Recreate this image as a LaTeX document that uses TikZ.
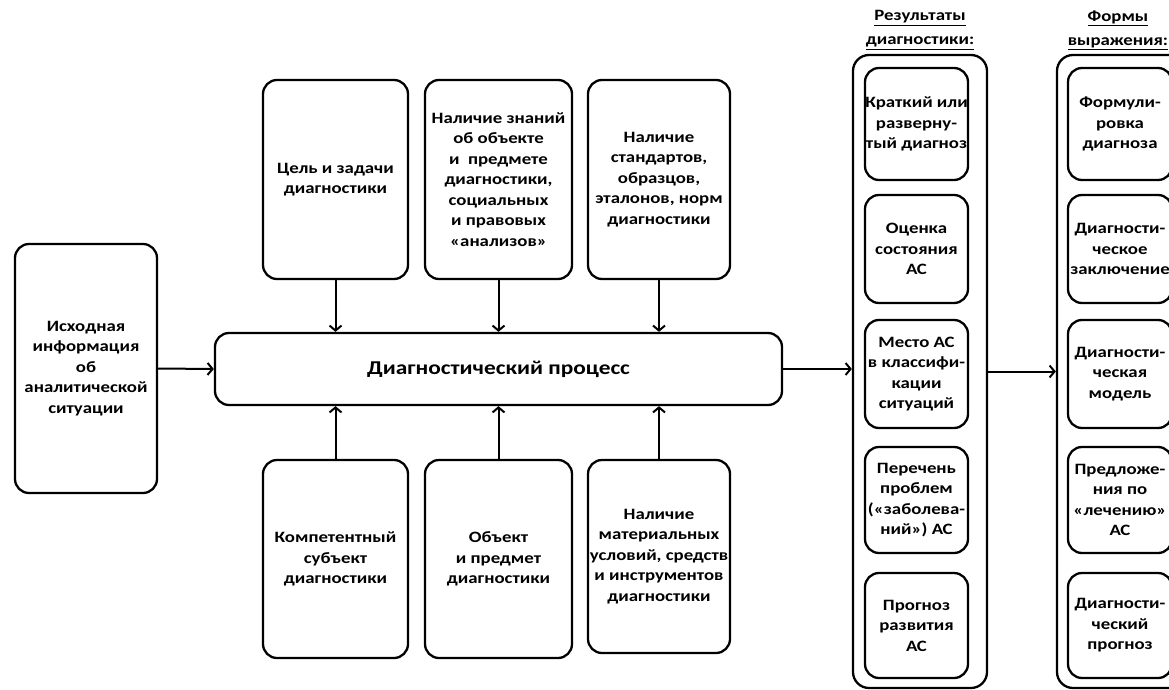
\documentclass[tikz,border=0pt]{standalone}
\usepackage{fontspec}
\setmainfont{Carlito}
\newfontfamily\wide[FakeStretch=1.19]{Carlito}
\usetikzlibrary{arrows.meta}
\begin{document}
\begin{tikzpicture}[x=1pt,y=-1pt,
  box/.style={draw, line width=2.3pt, rounded corners=14pt, align=center, inner sep=0pt,
    font=\wide\fontsize{15.8}{20.5}\selectfont\bfseries},
  outer/.style={draw, line width=2.3pt, rounded corners=16pt, inner sep=0pt},
  arr/.style={line width=2pt, -{Straight Barb[length=5pt,width=12pt,line width=2pt]}},
  hdr/.style={align=center, inner sep=0pt, font=\wide\fontsize{15.8}{24}\selectfont\bfseries}]
\useasboundingbox (0,0) rectangle (1169,690);
% left
\node[box, minimum width=142pt, minimum height=249pt] (src) at (86,368.5)
  {Исходная\\информация\\об\\аналитической\\ситуации};
% main
\node[box, minimum width=567pt, minimum height=72pt, font=\wide\fontsize{19.6}{22}\selectfont\bfseries] (main) at (498.5,369) {Диагностический процесс};
% top
\node[box, minimum width=145pt, minimum height=199pt] (t1) at (335.5,179.5) {Цель и задачи\\диагностики};
\node[box, minimum width=147pt, minimum height=199pt] (t2) at (498.5,179.5) {Наличие знаний\\об объекте\\и~~предмете\\диагностики,\\социальных\\и правовых\\«анализов»};
\node[box, minimum width=142pt, minimum height=199pt] (t3) at (659,179.5) {Наличие\\стандартов,\\образцов,\\эталонов, норм\\диагностики};
% bottom
\node[box, minimum width=145pt, minimum height=198pt] (b1) at (335.5,559) {Компетентный\\субъект\\диагностики};
\node[box, minimum width=147pt, minimum height=198pt] (b2) at (498.5,559) {Объект\\и предмет\\диагностики};
\node[box, minimum width=142pt, minimum height=193pt] (b3) at (659,556.5) {Наличие\\материальных\\условий, средств\\и инструментов\\диагностики};
% results
\node[hdr] (rh) at (920,30) {\underline{Результаты}\\\underline{диагностики:}};
\node[outer, minimum width=134pt, minimum height=633pt] (res) at (920,371.5) {};
\node[box, minimum width=103pt, minimum height=112pt] (r1) at (916.5,124) {Краткий или\\разверну-\\тый диагноз};
\node[box, minimum width=103pt, minimum height=108pt] (r2) at (916.5,249) {Оценка\\состояния\\АС};
\node[box, minimum width=103pt, minimum height=108pt] (r3) at (916.5,374) {Место АС\\в классифи-\\кации\\ситуаций};
\node[box, minimum width=103pt, minimum height=106pt] (r4) at (916.5,500) {Перечень\\проблем\\(«заболева-\\ний») АС};
\node[box, minimum width=103pt, minimum height=105pt] (r5) at (916.5,625.5) {Прогноз\\развития\\АС};
% forms
\node[hdr] (fh) at (1118,30) {\underline{Формы}\\\underline{выражения:}};
\node[outer, minimum width=140pt, minimum height=633pt] (frm) at (1127,371.5) {};
\node[box, minimum width=104pt, minimum height=112pt] (f1) at (1120,124) {Формули-\\ровка\\диагноза};
\node[box, minimum width=104pt, minimum height=108pt] (f2) at (1120,249) {Диагности-\\ческое\\заключение};
\node[box, minimum width=104pt, minimum height=108pt] (f3) at (1120,374) {Диагности-\\ческая\\модель};
\node[box, minimum width=104pt, minimum height=106pt] (f4) at (1120,500) {Предложе-\\ния по\\«лечению»\\АС};
\node[box, minimum width=104pt, minimum height=105pt] (f5) at (1120,625.5) {Диагности-\\ческий\\прогноз};
% arrows
\draw[arr] (src.east) -- (main.west);
\draw[arr] (main.east) -- (main.east -| res.west);
\draw[arr] (res.east) -- (frm.west);
\foreach \n in {t1,t2,t3} \draw[arr] (\n.south) -- (\n.south |- main.north);
\foreach \n in {b1,b2,b3} \draw[arr] (\n.north) -- (\n.north |- main.south);
\end{tikzpicture}
\end{document}
